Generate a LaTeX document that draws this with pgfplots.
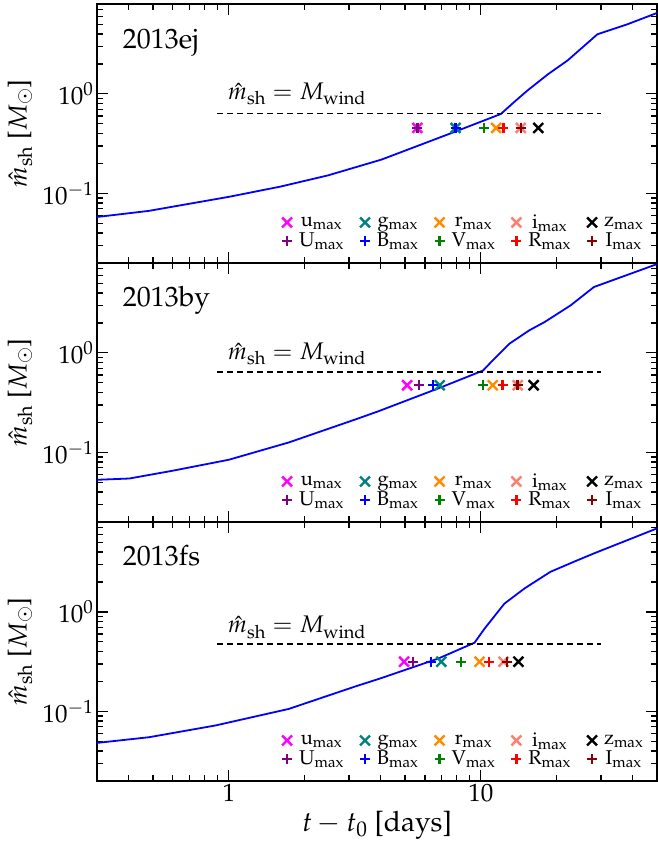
\documentclass[border=0pt]{standalone}
\usepackage[T1]{fontenc}
\usepackage{mathpazo}
\usepackage{pgfplots}
\pgfplotsset{compat=1.18}
\definecolor{cu}{RGB}{255,0,255}
\definecolor{cU}{RGB}{128,0,128}
\definecolor{cg}{RGB}{0,128,128}
\definecolor{cB}{RGB}{0,0,255}
\definecolor{cr}{RGB}{255,140,0}
\definecolor{cV}{RGB}{0,128,0}
\definecolor{ci}{RGB}{250,128,114}
\definecolor{cR}{RGB}{255,0,0}
\definecolor{cz}{RGB}{0,0,0}
\definecolor{cI}{RGB}{139,0,0}
\tikzset{
  lab/.style={anchor=base west, inner sep=0pt, font=\fontsize{28bp}{30bp}\selectfont},
  wlab/.style={anchor=base west, inner sep=0pt, font=\fontsize{24bp}{26bp}\selectfont},
}
\pgfplotsset{
  xm/.style={only marks, mark=x, mark size=7bp, mark options={line width=2.4bp}},
  pm/.style={only marks, mark=+, mark size=5bp, mark options={line width=2.4bp}},
  curve/.style={blue, line width=1.8bp, no marks, forget plot},
  wind/.style={black, line width=1.5bp, dash pattern=on 6bp off 4bp, no marks, forget plot},
  legend image code/.code={\draw[#1] plot coordinates {(0bp,0bp)};},
  every tick label/.append style={font=\fontsize{25bp}{27bp}\selectfont},
  every axis y label/.style={at={(axis description cs:-0.1375,0.5)}, rotate=90, anchor=center, font=\fontsize{26bp}{28bp}\selectfont},
  every axis x label/.style={at={(axis description cs:0.5,-0.17)}, anchor=center, font=\fontsize{28bp}{30bp}\selectfont},
}
\begin{document}
\begin{tikzpicture}
% ---------------- 2013ej
\begin{axis}[at={(0,0)}, anchor=north west, xticklabels={},
    scale only axis, width=560bp, height=259bp,
    xmode=log, ymode=log, xmin=0.3, xmax=50, ymin=0.02, ymax=8,
    axis line style={line width=1.4bp},
    every tick/.style={black, line width=1.2bp},
    major tick length=11bp, minor tick length=6bp,
    tick align=inside,
    xtick={1,10}, minor xtick={0.3,0.4,0.5,0.6,0.7,0.8,0.9,2,3,4,5,6,7,8,9,20,30,40,50},
    ytick={0.1,1}, yticklabels={$10^{-1}$,$10^{0}$},
    minor ytick={0.02,0.03,0.04,0.05,0.06,0.07,0.08,0.09,0.2,0.3,0.4,0.5,0.6,0.7,0.8,0.9,2,3,4,5,6,7,8},
    yticklabel pos=left,
    ylabel={$\hat{m}_{\mathrm{sh}}$ [$M_\odot$]},
    legend columns=5,
    legend style={draw=none, fill=none, at={(rel axis cs:0.985,0.04)}, anchor=south east,
      font=\fontsize{20bp}{22bp}\selectfont, row sep=-1bp,
      /tikz/every even column/.append style={column sep=14bp},
      /tikz/every odd column/.append style={column sep=5bp}}]
\addplot[curve] coordinates {(0.3,0.058) (0.48,0.0667) (1,0.0924) (1.6,0.117) (2.48,0.152) (4.04,0.219) (7.94,0.419) (12,0.628) (13.5,0.82) (15.3,1.08) (18.5,1.58) (22.1,2.17) (29,3.97) (38.1,5.0) (50,6.5)};
\addplot[wind] coordinates {(0.9,0.632) (30,0.632)};
\addplot[xm, color=cu] coordinates {(5.6,0.455)}; \addlegendentry{u$_{\mathrm{max}}$}
\addplot[xm, color=cg] coordinates {(7.94,0.455)}; \addlegendentry{g$_{\mathrm{max}}$}
\addplot[xm, color=cr] coordinates {(11.5,0.455)}; \addlegendentry{r$_{\mathrm{max}}$}
\addplot[xm, color=ci] coordinates {(14.4,0.455)}; \addlegendentry{i$_{\mathrm{max}}$}
\addplot[xm, color=cz] coordinates {(16.9,0.455)}; \addlegendentry{z$_{\mathrm{max}}$}
\addplot[pm, color=cU] coordinates {(5.6,0.455)}; \addlegendentry{U$_{\mathrm{max}}$}
\addplot[pm, color=cB] coordinates {(7.94,0.455)}; \addlegendentry{B$_{\mathrm{max}}$}
\addplot[pm, color=cV] coordinates {(10.3,0.455)}; \addlegendentry{V$_{\mathrm{max}}$}
\addplot[pm, color=cR] coordinates {(12.3,0.455)}; \addlegendentry{R$_{\mathrm{max}}$}
\addplot[pm, color=cI] coordinates {(14.4,0.455)}; \addlegendentry{I$_{\mathrm{max}}$}
\node[lab] at (rel axis cs:0.046,0.828) {2013ej};
\node[wlab] at (axis cs:0.99,0.876) {$\hat{m}_{\mathrm{sh}} = M_{\mathrm{wind}}$};
\end{axis}
% ---------------- 2013by
\begin{axis}[at={(0,-259bp)}, anchor=north west, xticklabels={},
    scale only axis, width=560bp, height=259bp,
    xmode=log, ymode=log, xmin=0.3, xmax=50, ymin=0.02, ymax=8,
    axis line style={line width=1.4bp},
    every tick/.style={black, line width=1.2bp},
    major tick length=11bp, minor tick length=6bp,
    tick align=inside,
    xtick={1,10}, minor xtick={0.3,0.4,0.5,0.6,0.7,0.8,0.9,2,3,4,5,6,7,8,9,20,30,40,50},
    ytick={0.1,1}, yticklabels={$10^{-1}$,$10^{0}$},
    minor ytick={0.02,0.03,0.04,0.05,0.06,0.07,0.08,0.09,0.2,0.3,0.4,0.5,0.6,0.7,0.8,0.9,2,3,4,5,6,7,8},
    yticklabel pos=left,
    ylabel={$\hat{m}_{\mathrm{sh}}$ [$M_\odot$]},
    legend columns=5,
    legend style={draw=none, fill=none, at={(rel axis cs:0.985,0.04)}, anchor=south east,
      font=\fontsize{20bp}{22bp}\selectfont, row sep=-1bp,
      /tikz/every even column/.append style={column sep=14bp},
      /tikz/every odd column/.append style={column sep=5bp}}]
\addplot[curve] coordinates {(0.3,0.0531) (0.403,0.0547) (0.597,0.0654) (1,0.0844) (1.73,0.126) (3.17,0.214) (3.92,0.259) (6.97,0.452) (10.2,0.665) (11.33,0.878) (13.0,1.24) (15.6,1.69) (17.9,2.04) (22.7,3.0) (28.1,4.59) (50,7.8)};
\addplot[wind] coordinates {(0.9,0.644) (30,0.644)};
\addplot[xm, color=cu] coordinates {(5.10,0.473)}; \addlegendentry{u$_{\mathrm{max}}$}
\addplot[xm, color=cg] coordinates {(6.87,0.473)}; \addlegendentry{g$_{\mathrm{max}}$}
\addplot[xm, color=cr] coordinates {(11.15,0.473)}; \addlegendentry{r$_{\mathrm{max}}$}
\addplot[xm, color=ci] coordinates {(14.0,0.473)}; \addlegendentry{i$_{\mathrm{max}}$}
\addplot[xm, color=cz] coordinates {(16.2,0.473)}; \addlegendentry{z$_{\mathrm{max}}$}
\addplot[pm, color=cU] coordinates {(5.69,0.473)}; \addlegendentry{U$_{\mathrm{max}}$}
\addplot[pm, color=cB] coordinates {(6.46,0.473)}; \addlegendentry{B$_{\mathrm{max}}$}
\addplot[pm, color=cV] coordinates {(10.2,0.473)}; \addlegendentry{V$_{\mathrm{max}}$}
\addplot[pm, color=cR] coordinates {(12.2,0.473)}; \addlegendentry{R$_{\mathrm{max}}$}
\addplot[pm, color=cI] coordinates {(14.0,0.473)}; \addlegendentry{I$_{\mathrm{max}}$}
\node[lab] at (rel axis cs:0.046,0.834) {2013by};
\node[wlab] at (axis cs:0.99,0.858) {$\hat{m}_{\mathrm{sh}} = M_{\mathrm{wind}}$};
\end{axis}
% ---------------- 2013fs
\begin{axis}[at={(0,-518bp)}, anchor=north west, xticklabels={1,10},
    scale only axis, width=560bp, height=259bp,
    xmode=log, ymode=log, xmin=0.3, xmax=50, ymin=0.02, ymax=8,
    axis line style={line width=1.4bp},
    every tick/.style={black, line width=1.2bp},
    major tick length=11bp, minor tick length=6bp,
    tick align=inside,
    xtick={1,10}, minor xtick={0.3,0.4,0.5,0.6,0.7,0.8,0.9,2,3,4,5,6,7,8,9,20,30,40,50},
    ytick={0.1,1}, yticklabels={$10^{-1}$,$10^{0}$},
    minor ytick={0.02,0.03,0.04,0.05,0.06,0.07,0.08,0.09,0.2,0.3,0.4,0.5,0.6,0.7,0.8,0.9,2,3,4,5,6,7,8},
    yticklabel pos=left, xticklabel pos=lower,
    ylabel={$\hat{m}_{\mathrm{sh}}$ [$M_\odot$]},
    xlabel={$t - t_0$ [days]},
    legend columns=5,
    legend style={draw=none, fill=none, at={(rel axis cs:0.985,0.04)}, anchor=south east,
      font=\fontsize{20bp}{22bp}\selectfont, row sep=-1bp,
      /tikz/every even column/.append style={column sep=14bp},
      /tikz/every odd column/.append style={column sep=5bp}}]
\addplot[curve] coordinates {(0.3,0.0483) (0.483,0.0551) (0.886,0.0723) (1.73,0.106) (3.17,0.178) (4.0,0.215) (6.76,0.339) (9.44,0.49) (10.35,0.68) (12.4,1.21) (14.9,1.72) (18.9,2.53) (23.4,3.19) (28.1,3.87) (50,6.9)};
\addplot[wind] coordinates {(0.9,0.476) (30,0.476)};
\addplot[xm, color=cu] coordinates {(4.96,0.316)}; \addlegendentry{u$_{\mathrm{max}}$}
\addplot[xm, color=cg] coordinates {(6.97,0.316)}; \addlegendentry{g$_{\mathrm{max}}$}
\addplot[xm, color=cr] coordinates {(9.88,0.316)}; \addlegendentry{r$_{\mathrm{max}}$}
\addplot[xm, color=ci] coordinates {(12.3,0.316)}; \addlegendentry{i$_{\mathrm{max}}$}
\addplot[xm, color=cz] coordinates {(14.1,0.316)}; \addlegendentry{z$_{\mathrm{max}}$}
\addplot[pm, color=cU] coordinates {(5.38,0.316)}; \addlegendentry{U$_{\mathrm{max}}$}
\addplot[pm, color=cB] coordinates {(6.36,0.316)}; \addlegendentry{B$_{\mathrm{max}}$}
\addplot[pm, color=cV] coordinates {(8.36,0.316)}; \addlegendentry{V$_{\mathrm{max}}$}
\addplot[pm, color=cR] coordinates {(10.76,0.316)}; \addlegendentry{R$_{\mathrm{max}}$}
\addplot[pm, color=cI] coordinates {(12.7,0.316)}; \addlegendentry{I$_{\mathrm{max}}$}
\node[lab] at (rel axis cs:0.046,0.834) {2013fs};
\node[wlab] at (axis cs:0.99,0.614) {$\hat{m}_{\mathrm{sh}} = M_{\mathrm{wind}}$};
\end{axis}
\pgfresetboundingbox
\path[use as bounding box] (-97bp,4bp) rectangle (561bp,-842bp);
\end{tikzpicture}
\end{document}
